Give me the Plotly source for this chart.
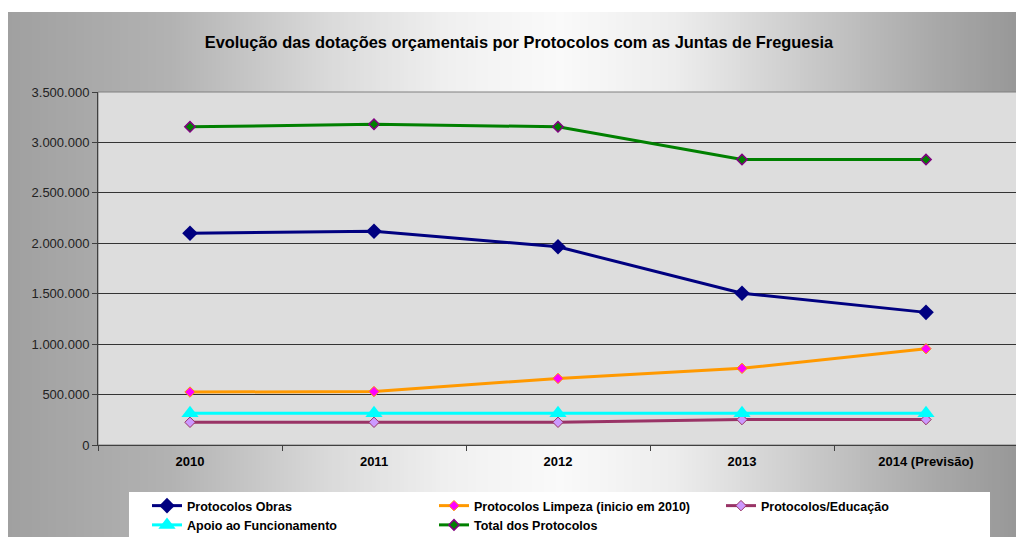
import plotly.graph_objects as go

categories = ["2010", "2011", "2012", "2013", "2014 (Previsão)"]
obras = [2100000, 2120000, 1965000, 1505000, 1315000]
limpeza = [525000, 530000, 660000, 760000, 955000]
educacao = [225000, 225000, 225000, 252000, 252000]
apoio = [315000, 315000, 315000, 315000, 315000]
total = [3155000, 3180000, 3155000, 2830000, 2830000]
y_ticks = [0, 500000, 1000000, 1500000, 2000000, 2500000, 3000000, 3500000]

# page body has an 8px margin, so the figure is placed at (8, 8)
OFF = 8
W, H = 1024 - OFF, 537 - OFF
L, R, T, B = 98 - OFF, 1018 - OFF, 92 - OFF, 445 - OFF


def px_x(p):
    # p in page pixels
    return (p - OFF - L) / (R - L)


def px_y(p):
    return (B - (p - OFF)) / (B - T)


fig = go.Figure()

fig.add_trace(go.Scatter(x=categories, y=obras, name="Protocolos Obras", mode="lines+markers",
                         line=dict(color="#000080", width=3),
                         marker=dict(symbol="diamond", size=12, color="#000080")))
fig.add_trace(go.Scatter(x=categories, y=limpeza, name="Protocolos Limpeza (inicio em 2010)", mode="lines+markers",
                         line=dict(color="#FF9900", width=3),
                         marker=dict(symbol="diamond", size=8, color="#FF00FF", line=dict(color="#FF9900", width=1))))
fig.add_trace(go.Scatter(x=categories, y=educacao, name="Protocolos/Educação", mode="lines+markers",
                         line=dict(color="#993366", width=3),
                         marker=dict(symbol="diamond", size=8, color="#CC99FF", line=dict(color="#993366", width=1))))
fig.add_trace(go.Scatter(x=categories, y=apoio, name="Apoio ao Funcionamento", mode="lines+markers",
                         line=dict(color="#00FFFF", width=3),
                         marker=dict(symbol="triangle-up", size=15, color="#00FFFF")))
fig.add_trace(go.Scatter(x=categories, y=total, name="Total dos Protocolos", mode="lines+markers",
                         line=dict(color="#008000", width=3),
                         marker=dict(symbol="diamond", size=8, color="#008000", line=dict(color="#800080", width=1.5))))

# gradient background strips (page pixel coordinates)
stops = [(8, 160), (170, 178), (330, 218), (450, 240), (560, 250), (680, 236), (830, 196), (920, 172), (1024, 150)]


def grey(p):
    for (a, ca), (b, cb) in zip(stops[:-1], stops[1:]):
        if a <= p <= b:
            return ca + (cb - ca) * (p - a) / (b - a)
    return stops[-1][1]


shapes = []
step = 4
p = 8
while p < 1024:
    g = int(round(grey(p + step / 2)))
    shapes.append(dict(type="rect", xref="paper", yref="paper", layer="below",
                       x0=px_x(p), x1=px_x(min(p + step + 0.5, 1026)), y0=px_y(539), y1=px_y(12),
                       fillcolor=f"rgb({g},{g},{g})", line=dict(width=0)))
    p += step
# plot area
shapes.append(dict(type="rect", xref="paper", yref="paper", layer="below",
                   x0=0, x1=1, y0=0, y1=1, fillcolor="#DDDDDD", line=dict(color="#808080", width=1)))
# legend box
shapes.append(dict(type="rect", xref="paper", yref="paper", layer="below",
                   x0=px_x(129), x1=px_x(990), y0=px_y(539), y1=px_y(492),
                   fillcolor="#FFFFFF", line=dict(width=0)))

fig.update_layout(
    width=W, height=H,
    margin=dict(l=L, r=W - R, t=T, b=H - B, autoexpand=False),
    paper_bgcolor="#FFFFFF",
    plot_bgcolor="rgba(0,0,0,0)",
    separators=",.",
    font=dict(family="Liberation Sans, Arial, sans-serif", size=12, color="#000000"),
    title=dict(text="<b>Evolução das dotações orçamentais por Protocolos com as Juntas de Freguesia</b>",
               font=dict(size=16.4, color="#000000"),
               x=px_x(519), xref="paper", xanchor="center",
               y=1 - (42 - OFF) / H, yref="container", yanchor="middle"),
    shapes=shapes,
    showlegend=True,
    legend=dict(orientation="h", x=px_x(147), xanchor="left", y=px_y(491), yanchor="top",
                bgcolor="rgba(0,0,0,0)", entrywidth=242, entrywidthmode="pixels",
                font=dict(size=12.5, color="#000000", weight="bold"), traceorder="normal"),
    xaxis=dict(type="category", tickson="boundaries", ticks="outside", ticklen=5, tickcolor="#404040",
               showline=True, linecolor="#404040", linewidth=1, mirror=False, showgrid=False,
               ticklabelstandoff=4,
               tickfont=dict(size=13, color="#000000", weight="bold"), range=[-0.5, 4.5]),
    yaxis=dict(range=[0, 3500000], tickvals=y_ticks, tickformat=",d", ticks="outside", ticklen=5,
               tickcolor="#404040", showline=True, linecolor="#404040", linewidth=1,
               showgrid=True, gridcolor="#333333", gridwidth=1, zeroline=False,
               tickfont=dict(size=13, color="#222222")),
)

fig.write_html("out.html")
